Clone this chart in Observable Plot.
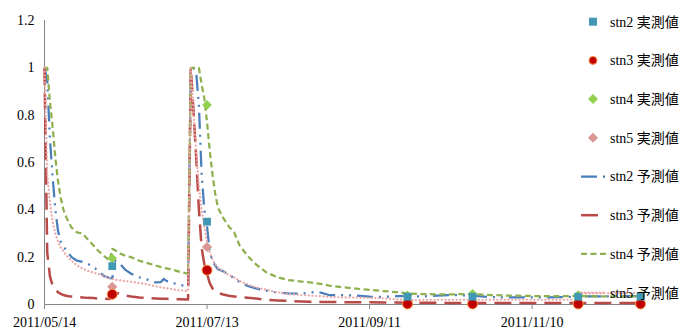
<!DOCTYPE html>
<html><head><meta charset="utf-8">
<script src="https://cdn.jsdelivr.net/npm/d3@7"></script>
<script src="https://cdn.jsdelivr.net/npm/@observablehq/plot@0.6"></script>
<style>
body{margin:0;background:#fff}
#wrap{position:relative;width:692px;height:332px;overflow:hidden}
#legend{position:absolute;left:0;top:0}
#wrap svg text{font-family:'Liberation Serif','Noto Sans CJK JP',serif;}
</style>
</head><body><div id="wrap"></div>
<script>
// ---- data ----
const startDate = "2011-05-14";
const dayOffsets = [0,1,2,3,4,5,6,7,8,9,10, 12,14,16,18,20,22,24, 25,26,28,30,32,35,38,41, 43,44,45,47,50,53,
  54,55,56,57,58,59,60,61,62,63,64, 66,68,70,72,75,78,82,86,90,95, 98,100,102,105,110,115,120,125,130,134,
  140,145,150,158,165,170,175,180,185,190, 196,197,198,205,210,215,220];
const stn2Pred = [1.0,0.95,0.70,0.54,0.40,0.31,0.265,0.245,0.23,0.215,0.20, 0.185,0.18,0.172,0.16,0.14,0.12,0.112,
  0.11,0.185,0.17,0.145,0.13,0.115,0.105,0.093, 0.095,0.108,0.10,0.092,0.083,0.076,
  1.0,1.0,0.98,0.84,0.55,0.40,0.33,0.22,0.185,0.165,0.15, 0.14,0.128,0.11,0.095,0.078,0.068,0.058,0.05,0.047,0.046,
  0.05,0.054,0.05,0.04,0.04,0.038,0.033,0.032,0.035,0.036, 0.034,0.038,0.04,0.038,0.031,0.03,0.03,0.03,0.03,0.031,
  0.032,0.033,0.034,0.034,0.035,0.035,0.035];
const stn3Pred = [1.0,0.22,0.12,0.08,0.062,0.052,0.045,0.04,0.037,0.035,0.034, 0.032,0.03,0.028,0.027,0.025,0.024,0.023,
  0.04,0.05,0.045,0.038,0.034,0.03,0.027,0.025, 0.024,0.024,0.024,0.023,0.022,0.021,
  1.0,0.82,0.62,0.40,0.24,0.17,0.13,0.09,0.068,0.057,0.049, 0.042,0.037,0.034,0.031,0.029,0.025,0.02,0.017,0.015,0.013,
  0.012,0.012,0.011,0.011,0.01,0.009,0.009,0.008,0.008,0.007, 0.007,0.007,0.006,0.006,0.006,0.006,0.006,0.006,0.006,0.006,
  0.006,0.006,0.006,0.006,0.006,0.006,0.006];
const stn4Pred = [1.0,1.0,0.86,0.75,0.62,0.52,0.45,0.40,0.37,0.345,0.325, 0.305,0.30,0.275,0.25,0.225,0.205,0.185,
  0.235,0.23,0.215,0.205,0.20,0.185,0.175,0.165, 0.158,0.155,0.153,0.148,0.138,0.13,
  1.0,1.0,1.0,1.0,0.93,0.87,0.77,0.65,0.55,0.47,0.41, 0.365,0.33,0.305,0.25,0.205,0.17,0.135,0.115,0.103,0.097,
  0.093,0.09,0.087,0.08,0.073,0.067,0.062,0.057,0.052,0.047, 0.044,0.043,0.043,0.044,0.04,0.038,0.037,0.036,0.035,0.035,
  0.036,0.036,0.036,0.034,0.034,0.034,0.035];
const stn5Pred = [1.0,0.55,0.43,0.35,0.30,0.265,0.24,0.225,0.21,0.195,0.185, 0.165,0.152,0.142,0.135,0.128,0.12,0.11,
  0.108,0.105,0.102,0.099,0.096,0.091,0.085,0.077, 0.072,0.07,0.069,0.065,0.06,0.057,
  1.0,0.82,0.64,0.50,0.40,0.33,0.26,0.22,0.19,0.17,0.155, 0.14,0.125,0.115,0.10,0.085,0.072,0.062,0.052,0.045,0.04,
  0.038,0.036,0.035,0.032,0.03,0.029,0.028,0.026,0.022,0.018, 0.02,0.02,0.02,0.02,0.02,0.02,0.02,0.02,0.02,0.02,
  0.02,0.045,0.047,0.047,0.048,0.048,0.048];

const obsDays = [25, 60, 134, 158, 197, 220];
const stn2Obs = [0.162, 0.35, 0.033, 0.033, 0.033, 0.033];
const stn3Obs = [0.043, 0.145, 0.002, 0.002, 0.002, 0.002];
const stn4Obs = [0.195, 0.843, 0.038, 0.045, 0.04, 0.036];
const stn5Obs = [0.075, 0.243, 0.012, 0.012, 0.012, 0.012];

const xTickLabels = ["2011/05/14","2011/07/13","2011/09/11","2011/11/10"];
const yTicks = [0, 0.2, 0.4, 0.6, 0.8, 1, 1.2];
const legendLabels = ["stn2 実測値","stn3 実測値","stn4 実測値","stn5 実測値","stn2 予測値","stn3 予測値","stn4 予測値","stn5 予測値"];

// ---- build ----
const t0 = Date.parse(startDate + "T00:00:00Z");
const toDate = d => new Date(t0 + d * 864e5);
const rows = vals => dayOffsets.map((d, i) => ({date: toDate(d), value: vals[i]}));
const obsRows = vals => obsDays.map((d, i) => ({date: toDate(d), value: vals[i]}));
const xTicks = xTickLabels.map(s => new Date(s.replace(/\//g, "-") + "T00:00:00Z"));

const predStyles = [
  {data: stn2Pred, stroke: "#4A7EBB", strokeWidth: 2.25, strokeDasharray: "16,6,2,6,2,6"},
  {data: stn3Pred, stroke: "#B84A47", strokeWidth: 2.5, strokeDasharray: "17,8"},
  {data: stn4Pred, stroke: "#8FB04F", strokeWidth: 2.25, strokeDasharray: "6,3.5"},
  {data: stn5Pred, stroke: "#EBA5A5", strokeWidth: 2.2, strokeDasharray: "0.1,3.6", strokeLinecap: "round"}
];
const obsStyles = [
  {data: stn5Obs, symbol: "diamond2", fill: "#D99694", r: 4.6},
  {data: stn4Obs, symbol: "diamond2", fill: "#92D050", r: 4.4},
  {data: stn3Obs, symbol: "circle", fill: "#C00000", stroke: "#F79646", r: 5},
  {data: stn2Obs, symbol: "square", fill: "#4198B5", r: 4.4}
];

const axisGray = "#868686";
const chart = Plot.plot({
  width: 692, height: 332,
  marginLeft: 44, marginRight: 52, marginTop: 20, marginBottom: 28,
  style: {fontFamily: "Liberation Serif", fontSize: "14px", color: "#000", background: "#fff", overflow: "visible"},
  x: {type: "utc", domain: [toDate(0), toDate(220)]},
  y: {domain: [0, 1.2]},
  marks: [
    Plot.ruleX([toDate(0)], {stroke: axisGray, strokeWidth: 1}),
    Plot.ruleY([0], {stroke: axisGray, strokeWidth: 1}),
    Plot.axisY({ticks: yTicks, tickSize: 0, tickPadding: 10, tickFormat: d => String(+d.toFixed(1)), label: null, fill: "#000", fontSize: 14}),
    Plot.axisX({ticks: xTicks, tickSize: 5, tickPadding: 8, tickFormat: (d, i) => xTickLabels[i], label: null, stroke: axisGray, fill: "#000", fontSize: 14}),
    ...predStyles.map(s => Plot.line(rows(s.data), {x: "date", y: "value", stroke: s.stroke, strokeWidth: s.strokeWidth,
      strokeDasharray: s.strokeDasharray, strokeLinecap: s.strokeLinecap || "butt", strokeLinejoin: "round", curve: "linear"})),
    ...obsStyles.map(s => Plot.dot(obsRows(s.data), {x: "date", y: "value", symbol: s.symbol, fill: s.fill,
      stroke: s.stroke || "none", strokeWidth: 1, r: s.r}))
  ]
});
const wrap = document.getElementById("wrap");
wrap.appendChild(chart);

// ---- legend ----
const lg = d3.select(wrap).append("svg").attr("id", "legend").attr("width", 692).attr("height", 332);
const legendY0 = 21.7, legendStep = 38.7;
const legendSymbols = [
  {type: "square", fill: "#4198B5"},
  {type: "circle", fill: "#C00000", stroke: "#F79646"},
  {type: "diamond", fill: "#92D050"},
  {type: "diamond", fill: "#D99694"},
  {type: "line", ...predStyles[0]},
  {type: "line", ...predStyles[1]},
  {type: "line", ...predStyles[2]},
  {type: "line", ...predStyles[3]}
];
legendLabels.forEach((lab, i) => {
  const y = legendY0 + i * legendStep;
  const s = legendSymbols[i];
  const g = lg.append("g").attr("transform", `translate(0,${y})`);
  if (s.type === "square") g.append("rect").attr("x", 589).attr("y", -4).attr("width", 8).attr("height", 8).attr("fill", s.fill);
  else if (s.type === "circle") g.append("circle").attr("cx", 593).attr("cy", 0).attr("r", 4).attr("fill", s.fill).attr("stroke", s.stroke);
  else if (s.type === "diamond") g.append("path").attr("d", "M593,-5L598,0L593,5L588,0Z").attr("fill", s.fill);
  else g.append("line").attr("x1", 581).attr("x2", 606).attr("y1", 0).attr("y2", 0)
        .attr("stroke", s.stroke).attr("stroke-width", s.strokeWidth).attr("stroke-dasharray", s.strokeDasharray)
        .attr("stroke-linecap", s.strokeLinecap || "butt");
  g.append("text").attr("x", 610).attr("y", 0).attr("dy", "0.35em")
    .attr("font-family", "'Liberation Serif', 'Noto Sans CJK JP', serif")
    .attr("font-size", 14).attr("fill", "#000")
    .text(lab);
});
</script>
</body></html>
